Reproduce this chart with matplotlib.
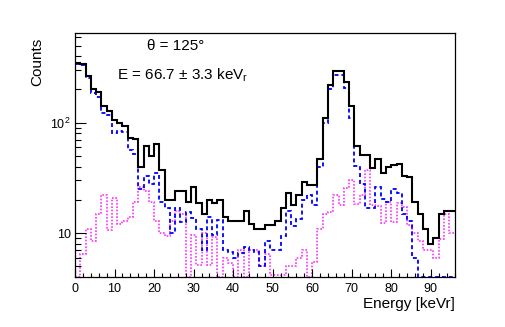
import numpy as np
import matplotlib
matplotlib.use('Agg')
import matplotlib.pyplot as plt
from matplotlib.ticker import MultipleLocator, FixedLocator, LogLocator, NullFormatter

plt.rcParams['font.family'] = ['Liberation Sans', 'DejaVu Sans']
plt.rcParams['mathtext.fontset'] = 'custom'
plt.rcParams['mathtext.rm'] = 'Liberation Sans'

# 72 bins, 0 - 96 keVr
edges = np.linspace(0, 96, 73)

total = [348, 342, 264, 202, 188, 143, 128, 105, 99, 93, 73, 71,
         40, 61, 50, 64, 37, 20, 20, 24, 24, 19, 26, 18.7,
         15, 20, 18.7, 20, 14, 13, 13, 13, 16, 12.2, 11, 11,
         11.8, 11.8, 12.9, 16.8, 22.9, 18, 22, 29, 27, 27, 47, 110,
         218, 293, 293, 232, 141, 62, 51, 51, 39, 47, 35, 39.5,
         41.5, 42, 33, 32, 19, 15, 11, 8, 9, 15, 16, 16]

blue = [340, 335, 255, 184, 172, 123, 118, 81, 85, 83, 57, 52,
        25, 33, 28, 35, 19, 17, 10, 17, 12.7, 15.6, 13.6, 11,
        7, 13.9, 9.6, 13.1, 7, 6.8, 5.9, 6.6, 7.5, 7, 6.8, 5,
        8.5, 7, 7, 9.5, 16, 11.5, 13.5, 20, 22, 18, 40, 99,
        202, 268, 273, 207, 110, 40.6, 28, 16.8, 16.8, 26, 20.2, 19.3,
        25, 23.3, 15, 12.9, 6, 0, 0, 0, 0, 0, 0, 0]

pink = [0, 6.5, 11, 8.5, 15, 22, 10.6, 21, 12, 13, 14, 19.3,
        26, 24, 19, 13, 10, 9.5, 13, 16, 15, 0, 9.6, 5.1,
        10, 5.1, 9.3, 0, 5.9, 5.4, 0, 7, 0, 7, 7, 5,
        6.5, 4.2, 4.2, 4.2, 5, 5, 6, 7, 0, 5.5, 11, 15,
        15.5, 22, 18, 25.5, 30, 18.5, 22, 37, 18, 17.5, 12.3, 19.3,
        12.7, 18.7, 17.4, 11.8, 10, 8.5, 7, 7, 5.9, 8.9, 15, 10]

ylo, yhi = 4.0, 650

fig = plt.figure(figsize=(5.05, 3.27), dpi=100)
ax = fig.add_axes([75/505, 1-277/327, (454.5-75)/505, (277-33)/327])

ax.stairs(np.maximum(pink, ylo), edges, baseline=None, color='#ff33ff',
          lw=1.2, ls=(0, (1, 1)))
ax.stairs(np.maximum(blue, ylo), edges, baseline=None, color='#0000ff',
          lw=1.3, ls=(0, (2.2, 1.6)))
ax.stairs(np.maximum(total, ylo), edges, baseline=None, color='black', lw=1.5)

ax.set_yscale('log')
ax.set_xlim(0, 96)
ax.set_ylim(ylo, yhi)

ax.xaxis.set_major_locator(MultipleLocator(10))
ax.xaxis.set_minor_locator(MultipleLocator(2))
ax.yaxis.set_major_locator(FixedLocator([10, 100]))
ax.set_yticklabels(['10', '$10^{2}$'])
ax.yaxis.set_minor_locator(LogLocator(base=10, subs=np.arange(2, 10)))
ax.yaxis.set_minor_formatter(NullFormatter())

ax.tick_params(axis='both', which='both', direction='in', top=False, right=False,
               labelsize=9, width=0.8)
ax.tick_params(axis='x', which='major', length=5.5, pad=4)
ax.tick_params(axis='x', which='minor', length=2.8)
ax.tick_params(axis='y', which='major', length=8, pad=3)
ax.tick_params(axis='y', which='minor', length=4)
for s in ax.spines.values():
    s.set_linewidth(0.9)

fig.text(455/505, 1-304/327, 'Energy [keVr]', ha='right', va='center', fontsize=11)
fig.text(37/505, 1-38/327, 'Counts', ha='center', va='top', rotation=90, fontsize=11)

fig.text(176/505, 1-46/327, 'θ = 125°', ha='center', va='center', fontsize=11)
fig.text(117/505, 1-75/327, 'E = 66.7 ± 3.3 keV$_{\\mathrm{r}}$', ha='left',
         va='center', fontsize=11)

fig.savefig('out.png', dpi=100)
